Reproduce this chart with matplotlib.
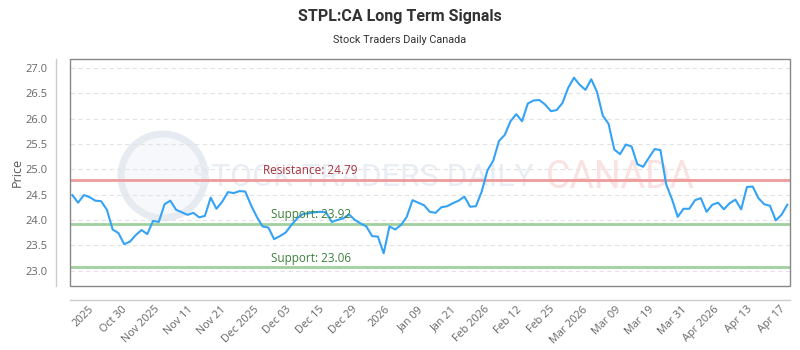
import numpy as np
import matplotlib
matplotlib.use('Agg')
import matplotlib.pyplot as plt
from matplotlib.patches import Rectangle, Circle

title = "STPL:CA Long Term Signals"
subtitle = "Stock Traders Daily Canada"

prices = [
    24.49, 24.34, 24.49, 24.45, 24.38, 24.37, 24.20, 23.81, 23.74, 23.52,
    23.57, 23.70, 23.80, 23.72, 23.98, 23.96, 24.31, 24.38, 24.20, 24.15,
    24.10, 24.14, 24.05, 24.08,
    24.44, 24.22, 24.36, 24.55, 24.53, 24.57, 24.56, 24.29, 24.06, 23.87,
    23.85, 23.62, 23.68, 23.75, 23.90, 24.03,
    24.12, 24.13, 24.15, 24.16, 24.15, 23.96, 24.00,
    24.03, 24.11, 24.00, 23.93, 23.87, 23.68, 23.67, 23.34, 23.87, 23.81,
    23.90, 24.06, 24.39, 24.34, 24.29, 24.16, 24.14, 24.25, 24.27, 24.33,
    24.38, 24.46, 24.26, 24.27,
    24.56, 24.98, 25.17, 25.56, 25.68, 25.95, 26.09, 25.95, 26.30, 26.36,
    26.37, 26.28, 26.15, 26.17, 26.31, 26.61, 26.81, 26.67, 26.57, 26.78,
    26.53, 26.06, 25.90, 25.39, 25.30, 25.49, 25.45, 25.10, 25.05, 25.23,
    25.40, 25.38, 24.70, 24.41, 24.06, 24.22, 24.22, 24.39, 24.43, 24.16,
    24.30, 24.34, 24.21, 24.33, 24.40, 24.21, 24.65, 24.66, 24.43, 24.31,
    24.28, 23.99, 24.10, 24.30,
]

tick_labels = ["2025", "Oct 30", "Nov 2025", "Nov 11", "Nov 21", "Dec 2025",
               "Dec 03", "Dec 15", "Dec 29", "2026", "Jan 09", "Jan 21",
               "Feb 2026", "Feb 12", "Feb 25", "Mar 2026", "Mar 09", "Mar 19",
               "Mar 31", "Apr 2026", "Apr 13", "Apr 17"]

resistance = 24.79
supports = [23.92, 23.06]
y_ticks = [23.0, 23.5, 24.0, 24.5, 25.0, 25.5, 26.0, 26.5, 27.0]

HEAD = ['Roboto', 'DejaVu Sans']
BODY = ['Open Sans', 'DejaVu Sans']

fig = plt.figure(figsize=(8, 3.5), dpi=100)
fig.patch.set_facecolor('white')
W, H = 800, 350
ax = fig.add_axes([70 / W, (H - 286) / H, 720 / W, 227 / H])

x = np.arange(len(prices))
ax.set_xlim(-0.4, len(prices) - 1 + 0.47)
ax.set_ylim(22.694, 27.18)

# watermark
ring = Circle((1.63, (H - 176) / 100), 0.42, transform=fig.dpi_scale_trans,
              facecolor='#f7f8fb', edgecolor='#e6eaf1', lw=5, zorder=0)
ax.add_patch(ring)
ax.text(363 / W, 1 - 178 / H, "STOCK TRADERS DAILY", transform=fig.transFigure,
        ha='center', va='center', fontsize=23, color='#e9edf4',
        family=HEAD, zorder=0.5)
ax.text(620 / W, 1 - 178 / H, "CANADA", transform=fig.transFigure,
        ha='center', va='center', fontsize=27, color='#fbe2e2',
        family=HEAD, zorder=0.5)

ax.yaxis.grid(True, linestyle=(0, (4, 3)), color='#e3e3e3', lw=0.8, zorder=0.6)
ax.set_axisbelow(True)

ax.axhline(resistance, color='#ee9b9b', lw=2, zorder=1.5)
for s in supports:
    ax.axhline(s, color='#9fd09f', lw=2, zorder=1.5)

ax.plot(x, prices, color='#35a3f5', lw=1.5, zorder=3)

ax.text(33.0, resistance + 0.05, f"Resistance: {resistance}", color='#a8323c',
        fontsize=8.5, family=BODY, va='bottom', ha='left', zorder=4)
for s in supports:
    ax.text(34.4, s + 0.05, f"Support: {s}", color='#3c803c',
            fontsize=8.5, family=BODY, va='bottom', ha='left', zorder=4)

# axes styling
for side in ['top', 'right']:
    ax.spines[side].set_visible(False)
for side in ['left', 'bottom']:
    ax.spines[side].set_position(('outward', 10))
    ax.spines[side].set_color('#cccccc')
    ax.spines[side].set_linewidth(1)
ax.add_patch(Rectangle((0, 0), 1, 1, transform=ax.transAxes, fill=False,
                       edgecolor='#888888', lw=1, zorder=5, clip_on=False))

ax.set_yticks(y_ticks)
ax.set_yticklabels([f"{v:.1f}" for v in y_ticks])
tick_pos = np.linspace(2.84, 122.7, len(tick_labels))
ax.set_xticks(tick_pos)
ax.set_xticklabels(tick_labels, rotation=45, ha='right', rotation_mode='anchor')
ax.tick_params(axis='both', length=0, colors='#666666', labelsize=8)
ax.tick_params(axis='x', labelsize=7.8)
ax.tick_params(axis='y', pad=6)
ax.tick_params(axis='x', pad=3)
for lab in ax.get_xticklabels() + ax.get_yticklabels():
    lab.set_family(BODY)

fig.text(17 / W, 1 - 172 / H, "Price", rotation=90, ha='center', va='center',
         fontsize=9, color='#555555', family=BODY)
fig.text(0.5, 1 - 16 / H, title, ha='center', va='center', fontsize=11.5,
         fontweight='bold', color='#333333', family=HEAD)
fig.text(0.5, 1 - 40 / H, subtitle, ha='center', va='center', fontsize=7.8,
         color='#333333', family=HEAD)

fig.savefig('out.png', dpi=100, facecolor='white')
